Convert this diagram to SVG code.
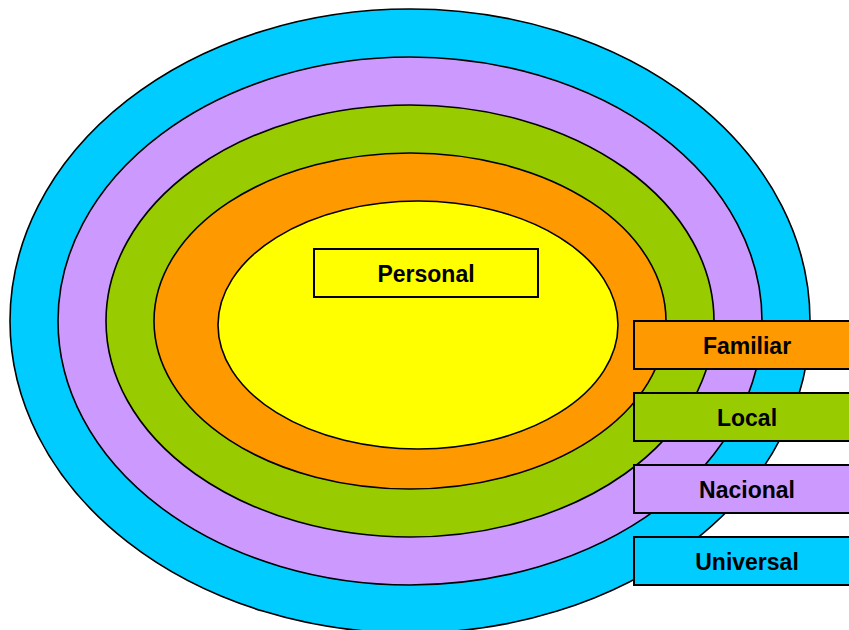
<svg xmlns="http://www.w3.org/2000/svg" width="849" height="630" viewBox="0 0 849 630">
  <style>
    .ring { stroke: #000; stroke-width: 1.6; }
    .box { stroke: #000; stroke-width: 2; }
    .label { font-family: "Liberation Sans", Arial, sans-serif; font-weight: bold; font-size: 23px; text-anchor: middle; fill: #000; }
  </style>
  <rect width="849" height="630" fill="#fff"/>
  <!-- nested rings, outermost first -->
  <g id="universal-ring"><ellipse class="ring" cx="410" cy="321" rx="400" ry="312" fill="#00CCFF"/></g>
  <g id="nacional-ring"><ellipse class="ring" cx="410" cy="321" rx="352" ry="264" fill="#CC99FF"/></g>
  <g id="local-ring"><ellipse class="ring" cx="410" cy="321" rx="304" ry="216" fill="#99CC00"/></g>
  <g id="familiar-ring"><ellipse class="ring" cx="410" cy="321" rx="256" ry="168" fill="#FF9900"/></g>
  <g id="personal-ring"><ellipse class="ring" cx="418" cy="325" rx="200" ry="124" fill="#FFFF00"/></g>
  <!-- labels -->
  <g id="personal">
    <rect class="box" x="314" y="249" width="224" height="48" fill="#FFFF00"/>
    <text class="label" x="426" y="282">Personal</text>
  </g>
  <g id="familiar">
    <rect class="box" x="634" y="321" width="226" height="48" fill="#FF9900"/>
    <text class="label" x="747" y="354">Familiar</text>
  </g>
  <g id="local">
    <rect class="box" x="634" y="393" width="226" height="48" fill="#99CC00"/>
    <text class="label" x="747" y="426">Local</text>
  </g>
  <g id="nacional">
    <rect class="box" x="634" y="465" width="226" height="48" fill="#CC99FF"/>
    <text class="label" x="747" y="498">Nacional</text>
  </g>
  <g id="universal">
    <rect class="box" x="634" y="537" width="226" height="48" fill="#00CCFF"/>
    <text class="label" x="747" y="570">Universal</text>
  </g>
  <g id="connectors"/>
</svg>
